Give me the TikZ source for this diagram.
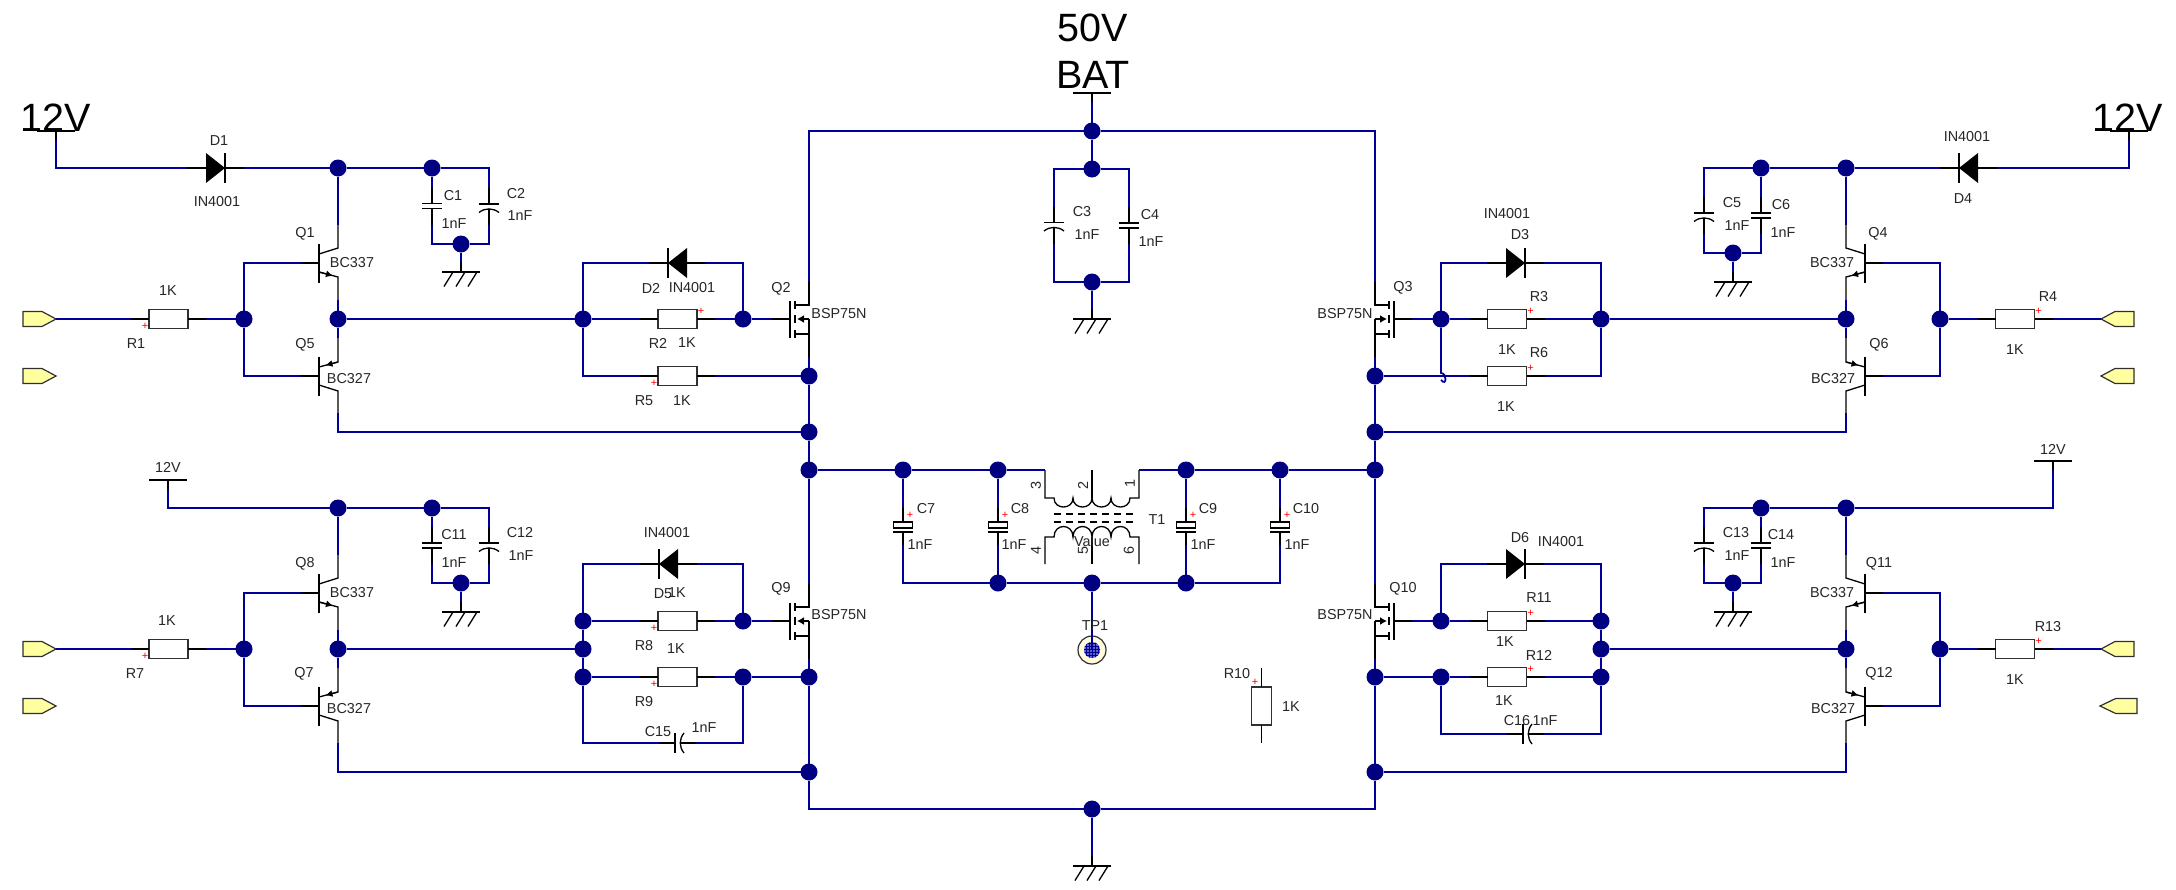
\documentclass[tikz,border=0pt]{standalone}
\usepackage{fontspec}
\setmainfont{Liberation Sans}
\usepackage{xcolor}
\usetikzlibrary{arrows.meta,calc,patterns}
\definecolor{wireBlue}{HTML}{000099}
\definecolor{dotBlue}{HTML}{000080}
\definecolor{portYellow}{HTML}{FFFFA0}
\definecolor{tpYellow}{HTML}{FFFBDC}
\definecolor{tpBlue}{HTML}{6060C8}
\definecolor{partGrey}{HTML}{303030}

% horizontal resistor with its two leads; #4 is the side of the plus mark
\newcommand{\rstH}[4]{%
  \node[rbox] (#1) at (#2,#3) {};
  \draw[lead] (#1.west) -- ++(-18,0) coordinate (#1a);
  \draw[lead] (#1.east) -- ++(18,0) coordinate (#1b);
  \node[plusm] (#1p) at ($(#1)+(#4*23.5,#4*-7.5)$) {+};
}
% diode, #4=1 anode on the left, #4=-1 anode on the right
\newcommand{\dio}[4]{%
  \begin{scope}[shift={(#2,#3)},xscale=#4]
    \fill (-9.5,-15) -- (9.5,0) -- (-9.5,15) -- cycle;
    \draw[lead] (9.5,-15) -- (9.5,15);
    \draw[lead] (-9.5,0) -- (-28.5,0) coordinate (#1a);
    \draw[lead] (9.5,0) -- (28.5,0) coordinate (#1k);
  \end{scope}
}
% vertical capacitors: flat, curved, polarised
\newcommand{\capF}[3]{%
  \begin{scope}[shift={(#2,#3)}]
    \draw[lead] (-10,-2.5) -- (10,-2.5);
    \draw[lead] (-10,2.5) -- (10,2.5);
    \draw[lead] (0,-2.5) -- (0,-18.5) coordinate (#1t);
    \draw[lead] (0,2.5) -- (0,18.5) coordinate (#1b);
  \end{scope}
}
\newcommand{\capC}[3]{%
  \begin{scope}[shift={(#2,#3)}]
    \draw[lead] (-10,-2.5) -- (10,-2.5);
    \draw[lead] (-10,6) .. controls (-4,1.2) and (4,1.2) .. (10,6);
    \draw[lead] (0,-2.5) -- (0,-18.5) coordinate (#1t);
    \draw[lead] (0,2.5) -- (0,18.5) coordinate (#1b);
  \end{scope}
}
\newcommand{\capE}[3]{%
  \begin{scope}[shift={(#2,#3)}]
    \draw[lead] (-9.5,-5) rectangle (9.5,1);
    \draw[lead] (-10,5) -- (10,5);
    \draw[lead] (0,-5) -- (0,-19) coordinate (#1t);
    \draw[lead] (0,5) -- (0,18) coordinate (#1b);
  \end{scope}
  \node[plusm] (#1p) at (#2+7,#3-12) {+};
}
% horizontal curved capacitor
\newcommand{\capH}[3]{%
  \begin{scope}[shift={(#2,#3)}]
    \draw[lead] (-2.5,-10) -- (-2.5,10);
    \draw[lead] (6.5,-10) .. controls (1.5,-4) and (1.5,4) .. (6.5,10);
    \draw[lead] (-2.5,0) -- (-18.5,0) coordinate (#1a);
    \draw[lead] (2.5,0) -- (18.5,0) coordinate (#1b);
  \end{scope}
}
% transistors, #4 mirrors them
\newcommand{\bjtN}[4]{%
  \begin{scope}[shift={(#2,#3)},xscale=#4]
    \draw[lead] (0,-19.5) -- (0,19.5);
    \draw[lead] (0,0) -- (-18,0) coordinate (#1b);
    \draw[lead] (0,-9) -- (19,-15) -- (19,-38) coordinate (#1c);
    \draw[lead] (0,9) -- (19,14) -- (19,37) coordinate (#1e);
    \draw[lead,-{Latex[length=7pt,width=7pt]}] (0,9) -- (14,12.7);
  \end{scope}
}
\newcommand{\bjtP}[4]{%
  \begin{scope}[shift={(#2,#3)},xscale=#4]
    \draw[lead] (0,-19.5) -- (0,19.5);
    \draw[lead] (0,0) -- (-18,0) coordinate (#1b);
    \draw[lead] (0,-9) -- (19,-14) -- (19,-38) coordinate (#1e);
    \draw[lead] (0,9) -- (19,15) -- (19,37) coordinate (#1c);
    \draw[lead,-{Latex[length=7pt,width=7pt]}] (19,-14) -- (6.5,-10.7);
  \end{scope}
}
\newcommand{\fet}[4]{%
  \begin{scope}[shift={(#2,#3)},xscale=#4]
    \draw[lead] (0,-18) -- (0,19);
    \draw[lead] (0,0) -- (-18,0) coordinate (#1g);
    \draw[line width=2.2pt] (5,-18) -- (5,-10) (5,-4) -- (5,4) (5,11) -- (5,19);
    \draw[lead] (5,-14) -- (19,-14) -- (19,-37) coordinate (#1d);
    \draw[lead] (5,15) -- (19,15);
    \draw[lead] (19,0) -- (19,38) coordinate (#1s);
    \draw[lead,-{Latex[length=7pt,width=8pt]}] (19,0) -- (7,0);
  \end{scope}
}
% ground and supply symbols
\newcommand{\gnd}[3]{%
  \draw[line width=2pt] (#2,#3) -- (#2,#3-10) coordinate (#1t);
  \draw[lead] (#2-19,#3) -- (#2+19,#3);
  \draw[lead] (#2-8,#3) -- (#2-17,#3+14.5) (#2+4,#3) -- (#2-5,#3+14.5) (#2+16,#3) -- (#2+7,#3+14.5);
}
\newcommand{\vbar}[3]{%
  \draw[line width=2pt] (#2,#3) -- (#2,#3+9) coordinate (#1t);
  \draw[lead] (#2-19,#3) -- (#2+19,#3);
}
\newcommand{\port}[4]{%
  \coordinate (#1) at (#2,#3);
  \begin{scope}[shift={(#2,#3)},xscale=#4]
    \draw[draw=partGrey,line width=1.2pt,fill=portYellow] (0,0) -- (-14,-7.5) -- (-33,-7.5) -- (-33,7.5) -- (-14,7.5) -- cycle;
  \end{scope}
}

\begin{document}
\begin{tikzpicture}[
  x=1pt, y=-1pt,
  wire/.style={draw=wireBlue, line width=1.8pt},
  lead/.style={draw=black, line width=1.3pt},
  dot/.style={circle, fill=dotBlue, inner sep=0pt, outer sep=0pt, minimum size=17pt},
  rbox/.style={draw=partGrey, fill=white, line width=1.3pt, inner sep=0pt, outer sep=0pt, minimum width=39pt, minimum height=19.5pt},
  lbl/.style={inner sep=0pt, yshift=-1pt, text=black!85, font=\fontsize{14.4}{16}\selectfont},
  big/.style={inner sep=0pt, font=\fontsize{39.5}{42}\selectfont},
  plusm/.style={inner sep=0pt, text=red, font=\fontsize{11}{12}\selectfont}
]
\useasboundingbox (0,0) rectangle (2176,889);

% Junctions, upper left
\node[dot] (J1) at (338,168) {};
\node[dot] (J2) at (432,168) {};
\node[dot] (J3) at (461,244) {};
\node[dot] (J4) at (244,319) {};
\node[dot] (J5) at (338,319) {};
\node[dot] (J6) at (583,319) {};
\node[dot] (J7) at (743,319) {};
% Junctions, lower left
\node[dot] (J8) at (338,508) {};
\node[dot] (J9) at (432,508) {};
\node[dot] (J10) at (461,583) {};
\node[dot] (J11) at (244,649) {};
\node[dot] (J12) at (338,649) {};
\node[dot] (J13) at (583,621) {};
\node[dot] (J14) at (743,621) {};
\node[dot] (J15) at (583,649) {};
\node[dot] (J16) at (583,677) {};
\node[dot] (J17) at (743,677) {};
% Junctions, rails
\node[dot] (L1) at (809,376) {};
\node[dot] (L2) at (809,432) {};
\node[dot] (L3) at (809,470) {};
\node[dot] (L4) at (809,677) {};
\node[dot] (L5) at (809,772) {};
\node[dot] (N1) at (1375,376) {};
\node[dot] (N2) at (1375,432) {};
\node[dot] (N3) at (1375,470) {};
\node[dot] (N4) at (1375,677) {};
\node[dot] (N5) at (1375,772) {};
% Junctions, middle
\node[dot] (M1) at (1092,131) {};
\node[dot] (M2) at (1092,169) {};
\node[dot] (M3) at (1092,282) {};
\node[dot] (M4) at (903,470) {};
\node[dot] (M5) at (998,470) {};
\node[dot] (M6) at (1186,470) {};
\node[dot] (M7) at (1280,470) {};
\node[dot] (M8) at (998,583) {};
\node[dot] (M9) at (1092,583) {};
\node[dot] (M10) at (1186,583) {};
\node[dot] (M11) at (1092,809) {};
% Junctions, right
\node[dot] (K1) at (1441,319) {};
\node[dot] (K2) at (1601,319) {};
\node[dot] (K3) at (1761,168) {};
\node[dot] (K4) at (1846,168) {};
\node[dot] (K5) at (1733,253) {};
\node[dot] (K6) at (1846,319) {};
\node[dot] (K7) at (1940,319) {};
\node[dot] (K8) at (1441,621) {};
\node[dot] (K9) at (1601,621) {};
\node[dot] (K10) at (1601,649) {};
\node[dot] (K11) at (1441,677) {};
\node[dot] (K12) at (1601,677) {};
\node[dot] (K13) at (1761,508) {};
\node[dot] (K14) at (1846,508) {};
\node[dot] (K15) at (1733,583) {};
\node[dot] (K16) at (1846,649) {};
\node[dot] (K17) at (1940,649) {};
% Rail corners
\coordinate (TL) at (809,131);
\coordinate (TR) at (1375,131);
\coordinate (BL) at (809,809);
\coordinate (BR) at (1375,809);
\coordinate (H1) at (1441,373);

% Parts, upper left
\vbar{V1}{56}{131}
\port{P1}{56}{319}{1}
\port{P2}{56}{376}{1}
\dio{D1}{215.5}{168}{1}
\rstH{R1}{168.5}{319}{-1}
\capF{C1}{432}{206}
\capC{C2}{489}{206.5}
\gnd{G1}{461}{272}
\bjtN{Q1}{319}{263}{1}
\bjtP{Q5}{319}{376}{1}
\dio{D2}{677.5}{263}{-1}
\rstH{R2}{677.5}{319}{1}
\rstH{R5}{677.5}{376}{-1}
\fet{Q2}{790}{319}{1}
% Parts, lower left
\vbar{V3}{168}{480}
\port{P5}{56}{649}{1}
\port{P6}{56}{706}{1}
\rstH{R7}{168.5}{649}{-1}
\capF{C11}{432}{545.5}
\capC{C12}{489}{545.5}
\gnd{G3}{461}{612}
\bjtN{Q8}{319}{593}{1}
\bjtP{Q7}{319}{706}{1}
\dio{D5}{668.5}{564}{-1}
\rstH{R8}{677.5}{621}{-1}
\rstH{R9}{677.5}{677}{-1}
\capH{C15}{677.5}{743}
\fet{Q9}{790}{621}{1}
% Parts, middle
\vbar{V5}{1092}{93}
\capC{C3}{1054}{225}
\capF{C4}{1129}{225.5}
\gnd{G4}{1092}{319}
\gnd{G5}{1092}{866}
\capE{C7}{903}{527}
\capE{C8}{998}{527}
\capE{C9}{1186}{527}
\capE{C10}{1280}{527}
\node[rbox, minimum width=19.5pt, minimum height=38pt] (R10) at (1261.5,706) {};
\draw[lead] (R10.north) -- (1261.5,668);
\draw[lead] (R10.south) -- (1261.5,743);
\node[plusm] (R10p) at (1255,682) {+};
% Parts, right
\vbar{V2}{2129}{131}
\port{P3}{2101}{319}{-1}
\port{P4}{2101}{376}{-1}
\dio{D4}{1968.5}{168}{-1}
\rstH{R4}{2015}{319}{1}
\capC{C5}{1704}{215.5}
\capF{C6}{1761}{215.5}
\gnd{G2}{1733}{282}
\bjtN{Q4}{1865}{263}{-1}
\bjtP{Q6}{1865}{376}{-1}
\dio{D3}{1515.5}{263}{1}
\rstH{R3}{1507}{319}{1}
\rstH{R6}{1507}{376}{1}
\fet{Q3}{1394}{319}{-1}
\vbar{V4}{2053}{461}
\port{P7}{2101}{649}{-1}
\port{P8}{2100}{706}{-1.12}
\rstH{R13}{2015}{649}{1}
\capC{C13}{1704}{545.5}
\capF{C14}{1761}{545.5}
\gnd{G6}{1733}{612}
\bjtN{Q11}{1865}{593}{-1}
\bjtP{Q12}{1865}{706}{-1}
\dio{D6}{1515.5}{564}{1}
\rstH{R11}{1507}{621}{1}
\rstH{R12}{1507}{677}{1}
\capH{C16}{1525.5}{734}
\fet{Q10}{1394}{621}{-1}

% Transformer
\coordinate (T1a) at (1045,470);
\coordinate (T1b) at (1139,470);
\coordinate (T1c) at (1092,470);
\draw[lead] (T1a) -- (1045,498) -- (1054,498)
  .. controls +(0,12) and +(0,12) .. ++(19,0)
  .. controls +(0,12) and +(0,12) .. ++(19,0)
  .. controls +(0,12) and +(0,12) .. ++(19,0)
  .. controls +(0,12) and +(0,12) .. ++(19,0)
  -- (1139,498) -- (T1b);
\draw[lead] (T1c) -- (1092,498);
\draw[lead] (1045,564) -- (1045,537) -- (1054,537)
  .. controls +(0,-14) and +(0,-14) .. ++(19,0)
  .. controls +(0,-14) and +(0,-14) .. ++(19,0)
  .. controls +(0,-14) and +(0,-14) .. ++(19,0)
  .. controls +(0,-14) and +(0,-14) .. ++(19,0)
  -- (1139,537) -- (1139,564);
\draw[lead] (1092,537) -- (1092,564);
\draw[lead, dash pattern=on 7pt off 5pt] (1054,514) -- (1133,514);
\draw[lead, dash pattern=on 7pt off 5pt] (1054,522) -- (1133,522);

% Test point
\node[circle, draw=partGrey, line width=1.2pt, fill=tpYellow, inner sep=0pt, minimum size=28pt] (TP1) at (1092,650) {};
\node[circle, fill=tpBlue, inner sep=0pt, minimum size=16pt, postaction={pattern=grid, pattern color=wireBlue}] (TP1i) at (1092,650) {};

% Wires, upper left
\draw[wire] (V1t) |- (D1a);
\draw[wire] (D1k) -- (J1);
\draw[wire] (J1) -- (J2);
\draw[wire] (J2) -| (C2t);
\draw[wire] (J2) -- (C1t);
\draw[wire] (C1b) |- (J3);
\draw[wire] (C2b) |- (J3);
\draw[wire] (J3) -- (G1t);
\draw[wire] (J1) -- (Q1c);
\draw[wire] (Q1e) -- (J5);
\draw[wire] (J5) -- (Q5e);
\draw[wire] (Q1b) -| (J4);
\draw[wire] (J4) |- (Q5b);
\draw[wire] (J4) -- (R1b);
\draw[wire] (R1a) -- (P1);
\draw[wire] (Q5c) |- (L2);
\draw[wire] (J5) -- (J6);
\draw[wire] (J6) |- (D2k);
\draw[wire] (D2a) -| (J7);
\draw[wire] (J6) -- (R2a);
\draw[wire] (R2b) -- (J7);
\draw[wire] (J7) -- (Q2g);
\draw[wire] (J6) |- (R5a);
\draw[wire] (R5b) -- (L1);

% Wires, lower left
\draw[wire] (V3t) |- (J8);
\draw[wire] (J8) -- (J9);
\draw[wire] (J9) -| (C12t);
\draw[wire] (J9) -- (C11t);
\draw[wire] (C11b) |- (J10);
\draw[wire] (C12b) |- (J10);
\draw[wire] (J10) -- (G3t);
\draw[wire] (J8) -- (Q8c);
\draw[wire] (Q8e) -- (J12);
\draw[wire] (J12) -- (Q7e);
\draw[wire] (Q8b) -| (J11);
\draw[wire] (J11) |- (Q7b);
\draw[wire] (J11) -- (R7b);
\draw[wire] (R7a) -- (P5);
\draw[wire] (Q7c) |- (L5);
\draw[wire] (J12) -- (J15);
\draw[wire] (J13) -- (J15);
\draw[wire] (J15) -- (J16);
\draw[wire] (J13) |- (D5k);
\draw[wire] (D5a) -| (J14);
\draw[wire] (J13) -- (R8a);
\draw[wire] (R8b) -- (J14);
\draw[wire] (J14) -- (Q9g);
\draw[wire] (J16) -- (R9a);
\draw[wire] (R9b) -- (J17);
\draw[wire] (J17) -- (L4);
\draw[wire] (J16) |- (C15a);
\draw[wire] (C15b) -| (J17);

% Wires, rails and middle
\draw[wire] (Q2d) -- (TL) -- (M1);
\draw[wire] (M1) -- (TR) -- (Q3d);
\draw[wire] (Q2s) -- (L1);
\draw[wire] (L1) -- (L2);
\draw[wire] (L2) -- (L3);
\draw[wire] (L3) -- (Q9d);
\draw[wire] (Q9s) -- (L4);
\draw[wire] (L4) -- (L5);
\draw[wire] (L5) -- (BL) -- (M11);
\draw[wire] (M11) -- (BR) -- (N5);
\draw[wire] (Q3s) -- (N1);
\draw[wire] (N1) -- (N2);
\draw[wire] (N2) -- (N3);
\draw[wire] (N3) -- (Q10d);
\draw[wire] (Q10s) -- (N4);
\draw[wire] (N4) -- (N5);
\draw[wire] (V5t) -- (M1);
\draw[wire] (M1) -- (M2);
\draw[wire] (M2) -| (C3t);
\draw[wire] (M2) -| (C4t);
\draw[wire] (C3b) |- (M3);
\draw[wire] (C4b) |- (M3);
\draw[wire] (M3) -- (G4t);
\draw[wire] (M11) -- (G5t);
\draw[wire] (L3) -- (M4);
\draw[wire] (M4) -- (M5);
\draw[wire] (M5) -- (T1a);
\draw[wire] (T1b) -- (M6);
\draw[wire] (M6) -- (M7);
\draw[wire] (M7) -- (N3);
\draw[wire] (M4) -- (C7t);
\draw[wire] (M5) -- (C8t);
\draw[wire] (M6) -- (C9t);
\draw[wire] (M7) -- (C10t);
\draw[wire] (C7b) |- (M8);
\draw[wire] (C8b) -- (M8);
\draw[wire] (C9b) -- (M10);
\draw[wire] (C10b) |- (M10);
\draw[wire] (M8) -- (M9);
\draw[wire] (M9) -- (M10);
\draw[wire] (M9) -- (TP1.center);

% Wires, right
\draw[wire] (K4) -- (D4k);
\draw[wire] (D4a) -| (V2t);
\draw[wire] (K4) -- (K3);
\draw[wire] (K3) -| (C5t);
\draw[wire] (K3) -- (C6t);
\draw[wire] (C5b) |- (K5);
\draw[wire] (C6b) |- (K5);
\draw[wire] (K5) -- (G2t);
\draw[wire] (K4) -- (Q4c);
\draw[wire] (Q4e) -- (K6);
\draw[wire] (K6) -- (Q6e);
\draw[wire] (Q4b) -| (K7);
\draw[wire] (K7) |- (Q6b);
\draw[wire] (K7) -- (R4a);
\draw[wire] (R4b) -- (P3);
\draw[wire] (Q6c) |- (N2);
\draw[wire] (K6) -- (K2);
\draw[wire] (K1) |- (D3a);
\draw[wire] (D3k) -| (K2);
\draw[wire] (K1) -- (R3a);
\draw[wire] (R3b) -- (K2);
\draw[wire] (Q3g) -- (K1);
\draw[wire] (K1) -- (H1) .. controls +(6,0) and +(6,7) .. +(0,7);
\draw[wire] (N1) -- (R6a);
\draw[wire] (R6b) -| (K2);
\draw[wire] (V4t) |- (K14);
\draw[wire] (K14) -- (K13);
\draw[wire] (K13) -| (C13t);
\draw[wire] (K13) -- (C14t);
\draw[wire] (C13b) |- (K15);
\draw[wire] (C14b) |- (K15);
\draw[wire] (K15) -- (G6t);
\draw[wire] (K14) -- (Q11c);
\draw[wire] (Q11e) -- (K16);
\draw[wire] (K16) -- (Q12e);
\draw[wire] (Q11b) -| (K17);
\draw[wire] (K17) |- (Q12b);
\draw[wire] (K17) -- (R13a);
\draw[wire] (R13b) -- (P7);
\draw[wire] (Q12c) |- (N5);
\draw[wire] (K16) -- (K10);
\draw[wire] (K9) -- (K10);
\draw[wire] (K10) -- (K12);
\draw[wire] (Q10g) -- (K8);
\draw[wire] (K8) |- (D6a);
\draw[wire] (D6k) -| (K9);
\draw[wire] (K8) -- (R11a);
\draw[wire] (R11b) -- (K9);
\draw[wire] (N4) -- (K11);
\draw[wire] (K11) -- (R12a);
\draw[wire] (R12b) -- (K12);
\draw[wire] (K11) |- (C16a);
\draw[wire] (C16b) -| (K12);

% Supply labels
\node[big] (t12a) at (56,118) {12V};
\node[big] (t12b) at (2128,118) {12V};
\node[big] (t50) at (1093,28) {50V};
\node[big] (tBAT) at (1093,75) {BAT};
\node[lbl] (t12c) at (168,466) {12V};
\node[lbl] (t12d) at (2053,448) {12V};

% Labels, upper left
\node[lbl] (tD1) at (219,140) {D1};
\node[lbl] (tD1v) at (217,201) {IN4001};
\node[lbl] (tC1) at (453,195) {C1};
\node[lbl] (tC1v) at (454,223) {1nF};
\node[lbl] (tC2) at (516,193) {C2};
\node[lbl] (tC2v) at (520,215) {1nF};
\node[lbl] (tQ1) at (305,233) {Q1};
\node[lbl] (tQ1v) at (352,262) {BC337};
\node[lbl] (tQ5) at (305,344) {Q5};
\node[lbl] (tQ5v) at (349,378) {BC327};
\node[lbl] (tR1) at (136,343) {R1};
\node[lbl] (tR1v) at (168,290) {1K};
\node[lbl] (tD2) at (651,287) {D2};
\node[lbl] (tD2v) at (692,287) {IN4001};
\node[lbl] (tR2) at (658,342) {R2};
\node[lbl] (tR2v) at (687,342) {1K};
\node[lbl] (tR5) at (644,400) {R5};
\node[lbl] (tR5v) at (682,400) {1K};
\node[lbl] (tQ2) at (781,288) {Q2};
\node[lbl] (tQ2v) at (839,313) {BSP75N};

% Labels, lower left
\node[lbl] (tC11) at (454,534) {C11};
\node[lbl] (tC11v) at (454,562) {1nF};
\node[lbl] (tC12) at (520,532) {C12};
\node[lbl] (tC12v) at (521,555) {1nF};
\node[lbl] (tQ8) at (305,563) {Q8};
\node[lbl] (tQ8v) at (352,592) {BC337};
\node[lbl] (tQ7) at (304,673) {Q7};
\node[lbl] (tQ7v) at (349,708) {BC327};
\node[lbl] (tR7) at (135,673) {R7};
\node[lbl] (tR7v) at (167,620) {1K};
\node[lbl] (tD5) at (663,593) {D5};
\node[lbl] (tD5v) at (667,532) {IN4001};
\node[lbl] (tR8) at (644,645) {R8};
\node[lbl] (tR8v) at (677,592) {1K};
\node[lbl] (tR9) at (644,701) {R9};
\node[lbl] (tR9v) at (676,648) {1K};
\node[lbl] (tC15) at (658,731) {C15};
\node[lbl] (tC15v) at (704,727) {1nF};
\node[lbl] (tQ9) at (781,588) {Q9};
\node[lbl] (tQ9v) at (839,614) {BSP75N};

% Labels, middle
\node[lbl] (tC3) at (1082,211) {C3};
\node[lbl] (tC3v) at (1087,234) {1nF};
\node[lbl] (tC4) at (1150,214) {C4};
\node[lbl] (tC4v) at (1151,241) {1nF};
\node[lbl] (tC7) at (926,508) {C7};
\node[lbl] (tC7v) at (920,544) {1nF};
\node[lbl] (tC8) at (1020,508) {C8};
\node[lbl] (tC8v) at (1014,544) {1nF};
\node[lbl] (tC9) at (1208,508) {C9};
\node[lbl] (tC9v) at (1203,544) {1nF};
\node[lbl] (tC10) at (1306,508) {C10};
\node[lbl] (tC10v) at (1297,544) {1nF};
\node[lbl, rotate=90] (t3) at (1036,484) {3};
\node[lbl, rotate=90] (t2) at (1083,484) {2};
\node[lbl, rotate=90] (t1) at (1130,482) {1};
\node[lbl, rotate=90] (t4) at (1036,549) {4};
\node[lbl, rotate=90] (t5) at (1083,549) {5};
\node[lbl, rotate=90] (t6) at (1129,549) {6};
\node[lbl] (tT1) at (1157,519) {T1};
\node[lbl] (tT1v) at (1092,540) {Value};
\node[lbl] (tTP1) at (1095,625) {TP1};
\node[lbl] (tR10) at (1237,673) {R10};
\node[lbl] (tR10v) at (1291,706) {1K};

% Labels, right
\node[lbl] (tD4) at (1963,198) {D4};
\node[lbl] (tD4v) at (1967,136) {IN4001};
\node[lbl] (tC5) at (1732,202) {C5};
\node[lbl] (tC5v) at (1737,225) {1nF};
\node[lbl] (tC6) at (1781,204) {C6};
\node[lbl] (tC6v) at (1783,232) {1nF};
\node[lbl] (tQ4) at (1878,233) {Q4};
\node[lbl] (tQ4v) at (1832,262) {BC337};
\node[lbl] (tQ6) at (1879,344) {Q6};
\node[lbl] (tQ6v) at (1833,378) {BC327};
\node[lbl] (tR4) at (2048,296) {R4};
\node[lbl] (tR4v) at (2015,349) {1K};
\node[lbl] (tD3) at (1520,234) {D3};
\node[lbl] (tD3v) at (1507,213) {IN4001};
\node[lbl] (tR3) at (1539,296) {R3};
\node[lbl] (tR3v) at (1507,349) {1K};
\node[lbl] (tR6) at (1539,352) {R6};
\node[lbl] (tR6v) at (1506,406) {1K};
\node[lbl] (tQ3) at (1403,287) {Q3};
\node[lbl] (tQ3v) at (1345,313) {BSP75N};
\node[lbl] (tC13) at (1736,532) {C13};
\node[lbl] (tC13v) at (1737,555) {1nF};
\node[lbl] (tC14) at (1781,534) {C14};
\node[lbl] (tC14v) at (1783,562) {1nF};
\node[lbl] (tQ11) at (1879,563) {Q11};
\node[lbl] (tQ11v) at (1832,592) {BC337};
\node[lbl] (tQ12) at (1879,673) {Q12};
\node[lbl] (tQ12v) at (1833,708) {BC327};
\node[lbl] (tR13) at (2048,626) {R13};
\node[lbl] (tR13v) at (2015,679) {1K};
\node[lbl] (tD6) at (1520,537) {D6};
\node[lbl] (tD6v) at (1561,541) {IN4001};
\node[lbl] (tR11) at (1539,597) {R11};
\node[lbl] (tR11v) at (1505,641) {1K};
\node[lbl] (tR12) at (1539,654) {R12};
\node[lbl] (tR12v) at (1504,700) {1K};
\node[lbl] (tC16) at (1517,720) {C16};
\node[lbl] (tC16v) at (1545,720) {1nF};
\node[lbl] (tQ10) at (1403,588) {Q10};
\node[lbl] (tQ10v) at (1345,614) {BSP75N};
\end{tikzpicture}
\end{document}
